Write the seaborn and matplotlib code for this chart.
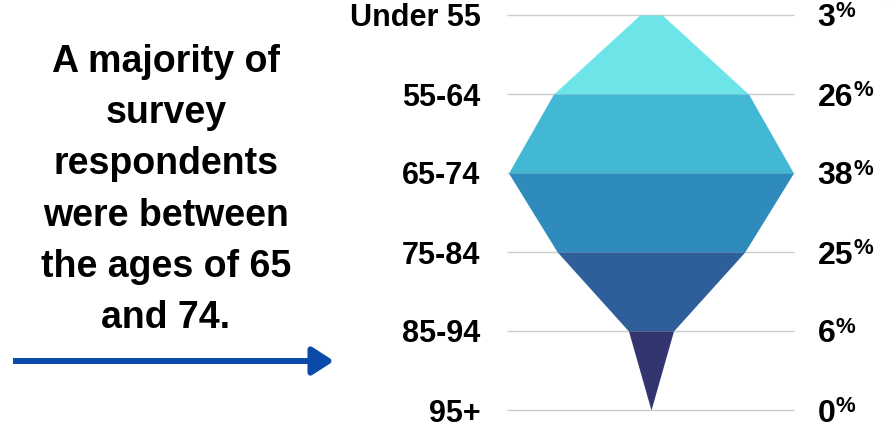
import numpy as np
import pandas as pd
import matplotlib.pyplot as plt
import seaborn as sns
from matplotlib.patches import FancyArrowPatch, Circle

age_groups = ['Under 55', '55-64', '65-74', '75-84', '85-94', '95+']
percents = [3, 26, 38, 25, 6, 0]
band_colors = ['#6de5e8', '#43b8d5', '#2f8bbb', '#2f5f9b', '#33356e']
note = 'A majority of\nsurvey\nrespondents\nwere between\nthe ages of 65\nand 74.'

sns.set_theme(style='white')
plt.rcParams['font.family'] = ['Liberation Sans', 'DejaVu Sans']
plt.rcParams['text.color'] = 'black'

df = pd.DataFrame({'group': age_groups, 'pct': percents})
df['level'] = np.arange(len(df))
df['half'] = df['pct'] / 2

fig = plt.figure(figsize=(8.91, 4.29), dpi=100)

# faint yellow circle peeking in at top-right corner
fig.patches.append(Circle((905 / 891, 1 + 15 / 429), 0.04, transform=fig.transFigure,
                          facecolor='#fdeab4', edgecolor='none', alpha=0.8))

ax = fig.add_axes([507 / 891, 19 / 429, 287 / 891, 395 / 429])

# stacked trapezoids, widths proportional to share
for i, c in enumerate(band_colors):
    seg = df.iloc[i:i + 2]
    ax.fill_betweenx(seg['level'], -seg['half'], seg['half'], color=c, lw=0, zorder=2)

ax.hlines(df['level'], -19.2, 19.07, color='#cccccc', lw=1, zorder=1, clip_on=False)
ax.set_xlim(-19.2, 19.07)
ax.set_ylim(df['level'].max(), 0)
sns.despine(ax=ax, left=True, bottom=True)
ax.set_xticks([])
ax.set_yticks(df['level'])
ax.set_yticklabels(df['group'], fontsize=22, fontweight='bold', color='black')
ax.tick_params(axis='y', length=0, pad=19)

for lvl, p in zip(df['level'], df['pct']):
    t = ax.annotate(f'{p}', xy=(1, lvl), xycoords=('axes fraction', 'data'),
                    xytext=(17, 0), textcoords='offset points',
                    ha='left', va='center_baseline', fontsize=23, fontweight='bold',
                    color='black', annotation_clip=False)
    ax.annotate('%', xy=(1, 1), xycoords=t, xytext=(0, 2), textcoords='offset points',
                ha='left', va='top', fontsize=16, fontweight='bold', color='black')

fig.text(166 / 891, 1 - 190 / 429, note, ha='center', va='center', fontsize=27,
         fontweight='bold', linespacing=1.55, color='black')

fig.patches.append(FancyArrowPatch((13 / 891, 1 - 361 / 429), (334 / 891, 1 - 361 / 429),
                                   transform=fig.transFigure, arrowstyle='-|>,head_length=0.65,head_width=0.42',
                                   mutation_scale=20, color='#0b4aa8', lw=4.3, joinstyle='round',
                                   capstyle='butt', shrinkA=0, shrinkB=0))

fig.savefig('out.png', dpi=100)
